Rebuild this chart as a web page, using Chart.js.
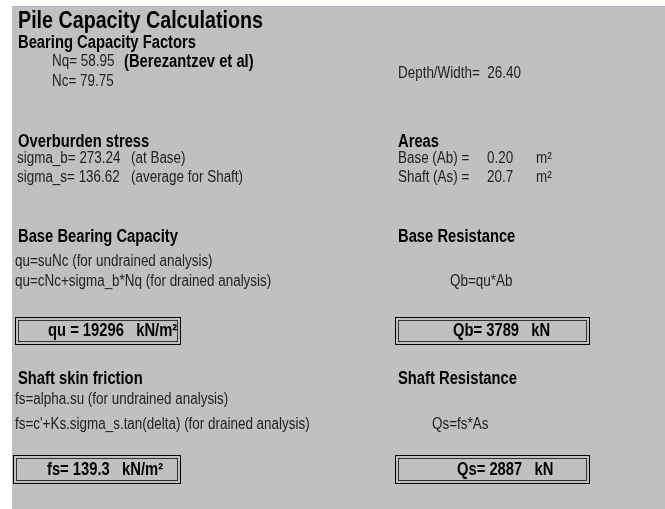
<!DOCTYPE html>
<html>
<head>
<meta charset="utf-8">
<script src="https://cdn.jsdelivr.net/npm/chart.js@4"></script>
<style>
  html, body { margin: 0; padding: 0; background: #fff; }
  canvas { display: block; }
</style>
</head>
<body>
<canvas id="pileChart" width="665" height="509"></canvas>
<script>
// values
const titleText = 'Pile Capacity Calculations';
const factorNames = ['Nq', 'Nc'];
const factorValues = [58.95, 79.75];
const factorSource = '(Berezantzev et al)';
const depthWidth = 26.40;
const stressNames = ['sigma_b', 'sigma_s'];
const stressValues = [273.24, 136.62];
const stressNotes = ['(at Base)', '(average for Shaft)'];
const areaNames = ['Base (Ab) =', 'Shaft (As) ='];
const areaValues = ['0.20', '20.7'];
const areaUnit = 'm²';
const baseFormulas = ['qu=suNc (for undrained analysis)', 'qu=cNc+sigma_b*Nq (for drained analysis)'];
const shaftFormulas = ['fs=alpha.su (for undrained analysis)', "fs=c'+Ks.sigma_s.tan(delta) (for drained analysis)"];
const resistFormulas = ['Qb=qu*Ab', 'Qs=fs*As'];
const resultNames = ['qu', 'Qb', 'fs', 'Qs'];
const resultSeps = [' = ', '= ', '= ', '= '];
const resultValues = ['19296', '3789', '139.3', '2887'];
const resultUnits = ['kN/m²', 'kN', 'kN/m²', 'kN'];

const FAM = '"Liberation Sans", Arial, sans-serif';
const F_TITLE = 'bold 24px ' + FAM;
const F_HEAD = 'bold 18px ' + FAM;
const F_REG = '16px ' + FAM;

// 좁은 글꼴이 없으므로 가로로 눌러서 그림
function txt(ctx, s, x, y, font, color, k) {
    k = k || (font === F_REG ? 0.84 : 0.82);
    ctx.save();
    ctx.font = font;
    ctx.fillStyle = color || '#000';
    ctx.textBaseline = 'middle';
    ctx.textAlign = 'left';
    ctx.translate(x, y);
    ctx.scale(k, 1);
    ctx.fillText(s, 0, 0);
    ctx.restore();
}

function resultBox(ctx, x, y, w, h, i, tx) {
    ctx.strokeStyle = '#000';
    ctx.lineWidth = 1;
    ctx.strokeRect(x + 0.5, y + 0.5, w, h);
    ctx.strokeStyle = '#333';
    ctx.strokeRect(x + 3.5, y + 3.5, w - 6, h - 6);
    const s = resultNames[i] + resultSeps[i] + resultValues[i] + '   ' + resultUnits[i];
    txt(ctx, s, tx, y + h / 2 + 1, F_HEAD, '#000');
}

// 패널 전체를 그리는 플러그인
const panelPlugin = {
    id: 'panel',
    beforeDraw(chart) {
        const ctx = chart.ctx;
        ctx.save();
        ctx.fillStyle = '#fff';
        ctx.fillRect(0, 0, chart.width, chart.height);
        ctx.fillStyle = '#c0c0c0';
        ctx.fillRect(12, 6, chart.width - 12, chart.height - 6);
        ctx.fillStyle = '#aab4c4';
        ctx.fillRect(12, 6, chart.width - 12, 1);

        const reg = '#222';
        txt(ctx, titleText, 18, 21, F_TITLE);
        txt(ctx, 'Bearing Capacity Factors', 18, 43, F_HEAD);
        factorNames.forEach((n, i) => {
            txt(ctx, n + '= ' + factorValues[i].toFixed(2), 52, 62 + i * 20, F_REG, reg);
        });
        txt(ctx, factorSource, 124, 62, F_HEAD);
        txt(ctx, 'Depth/Width=  ' + depthWidth.toFixed(2), 398, 74, F_REG, reg);

        txt(ctx, 'Overburden stress', 18, 142, F_HEAD);
        stressNames.forEach((n, i) => {
            txt(ctx, n + '= ' + stressValues[i].toFixed(2), 17, 159 + i * 19, F_REG, reg);
            txt(ctx, stressNotes[i], 131, 159 + i * 19, F_REG, reg);
        });
        txt(ctx, 'Areas', 398, 142, F_HEAD);
        areaNames.forEach((n, i) => {
            txt(ctx, n, 398, 159 + i * 19, F_REG, reg);
            txt(ctx, areaValues[i], 487, 159 + i * 19, F_REG, reg);
            txt(ctx, areaUnit, 536, 159 + i * 19, F_REG, reg);
        });

        txt(ctx, 'Base Bearing Capacity', 18, 237, F_HEAD);
        txt(ctx, 'Base Resistance', 398, 237, F_HEAD);
        baseFormulas.forEach((f, i) => txt(ctx, f, 15, 262 + i * 20, F_REG, reg));
        txt(ctx, resistFormulas[0], 450, 282, F_REG, reg);
        resultBox(ctx, 15, 317, 165, 27, 0, 48);
        resultBox(ctx, 395, 317, 194, 27, 1, 453);

        txt(ctx, 'Shaft skin friction', 18, 379, F_HEAD);
        txt(ctx, 'Shaft Resistance', 398, 379, F_HEAD);
        txt(ctx, shaftFormulas[0], 15, 400, F_REG, reg);
        txt(ctx, shaftFormulas[1], 15, 425, F_REG, reg);
        txt(ctx, resistFormulas[1], 432, 425, F_REG, reg);
        resultBox(ctx, 13, 455, 167, 28, 2, 47);
        resultBox(ctx, 395, 455, 194, 28, 3, 457);
        ctx.restore();
    }
};

const chart = new Chart(document.getElementById('pileChart').getContext('2d'), {
    type: 'bar',
    data: {
        labels: resultNames,
        datasets: [{ label: 'results', data: [], backgroundColor: 'transparent' }]
    },
    options: {
        responsive: false,
        animation: false,
        events: [],
        layout: { padding: 0 },
        plugins: { legend: { display: false }, tooltip: { enabled: false }, title: { display: false } },
        scales: { x: { display: false }, y: { display: false } }
    },
    plugins: [panelPlugin]
});
</script>
</body>
</html>
